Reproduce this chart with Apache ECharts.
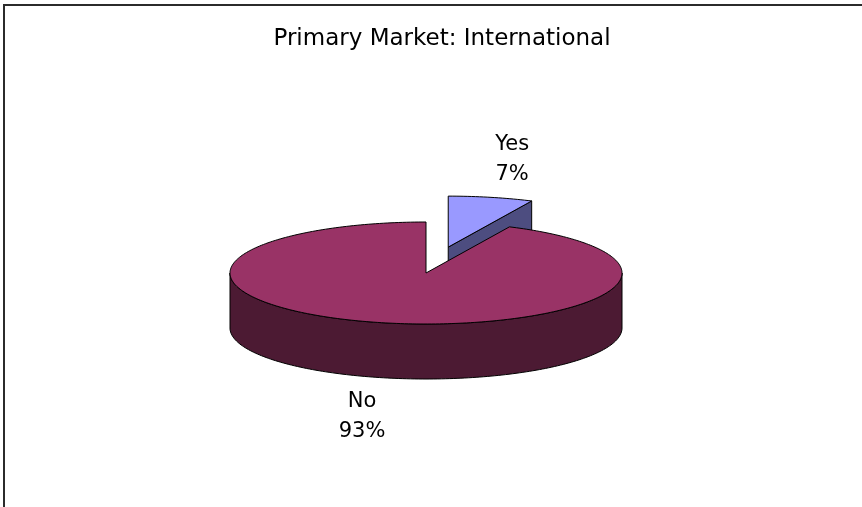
<!DOCTYPE html>
<html>
<head>
<meta charset="utf-8">
<script src="https://cdn.jsdelivr.net/npm/echarts@6/dist/echarts.min.js"></script>
<style>
  html, body { margin: 0; padding: 0; background: #fff; }
  #main { width: 862px; height: 507px; }
</style>
</head>
<body>
<div id="main"></div>
<script>
// data
var categories = ['Yes', 'No'];
var values = [7, 93];
var topColors = ['#9999FF', '#993366'];
var sideColors = ['#4D4D80', '#4C1A33'];
var explode = [0.52, 0];

// 3d pie geometry (pixels)
var CX = 426, CY = 273, RX = 196, RY = 51, DEPTH = 55;
var FONT = 'DejaVu Sans';

var myChart = echarts.init(document.getElementById('main'));

function total() {
    var s = 0;
    for (var i = 0; i < values.length; i++) s += values[i];
    return s;
}

function arc(ox, oy, a0, a1, dy) {
    var pts = [];
    var n = Math.max(2, Math.ceil((a1 - a0) / 0.02));
    for (var k = 0; k <= n; k++) {
        var t = a0 + (a1 - a0) * k / n;
        pts.push([ox + RX * Math.sin(t), oy - RY * Math.cos(t) + dy]);
    }
    return pts;
}

function renderSlice(params, api) {
    var i = params.dataIndex;
    var sum = total();
    var before = 0;
    for (var j = 0; j < i; j++) before += values[j];
    var a0 = before / sum * Math.PI * 2;
    var a1 = (before + api.value(0)) / sum * Math.PI * 2;
    var mid = (a0 + a1) / 2;
    var ox = CX + explode[i] * RX * Math.sin(mid);
    var oy = CY - explode[i] * RY * Math.cos(mid);
    var line = { stroke: '#000', lineWidth: 1 };
    var children = [];

    // curved outer wall, only the front half shows
    var w0 = Math.max(a0, Math.PI / 2), w1 = Math.min(a1, Math.PI * 1.5);
    if (w1 > w0) {
        var wall = arc(ox, oy, w0, w1, 0).concat(arc(ox, oy, w0, w1, DEPTH).reverse());
        children.push({ type: 'polygon', shape: { points: wall },
            style: Object.assign({ fill: sideColors[i] }, line) });
    }
    // cut faces
    [[a1, 1], [a0, -1]].forEach(function (f) {
        if (Math.sin(f[0]) * f[1] > 0.001) {
            var ex = ox + RX * Math.sin(f[0]), ey = oy - RY * Math.cos(f[0]);
            children.push({ type: 'polygon',
                shape: { points: [[ox, oy], [ex, ey], [ex, ey + DEPTH], [ox, oy + DEPTH]] },
                style: Object.assign({ fill: sideColors[i] }, line) });
        }
    });
    // top face
    var top = [[ox, oy]].concat(arc(ox, oy, a0, a1, 0));
    children.push({ type: 'polygon', shape: { points: top },
        style: Object.assign({ fill: topColors[i] }, line) });

    // label outside the slice
    var up = Math.cos(mid) > 0;
    var lx = ox + RX * Math.sin(mid) + Math.sin(mid) * 97;
    var ly = up ? oy - RY * Math.cos(mid) - 8 : oy - RY * Math.cos(mid) + DEPTH + 9;
    var pct = Math.round(api.value(0) / sum * 100) + '%';
    children.push({ type: 'text', x: lx, y: ly,
        style: { text: categories[i] + '\n' + pct, fill: '#000', font: '21px ' + FONT,
            lineHeight: 30, align: 'center', verticalAlign: up ? 'bottom' : 'top' } });

    return { type: 'group', children: children };
}

var option = {
    animation: false,
    backgroundColor: '#fff',
    title: {
        text: 'Primary Market: International',
        left: 437,
        top: 23,
        textAlign: 'center',
        textStyle: { fontFamily: FONT, fontSize: 23, fontWeight: 'normal', color: '#000' }
    },
    graphic: [{
        type: 'rect',
        shape: { x: 4, y: 5, width: 900, height: 600 },
        style: { fill: 'none', stroke: '#2b2b2b', lineWidth: 2 },
        z: 0
    }],
    series: [{
        type: 'custom',
        coordinateSystem: 'none',
        renderItem: renderSlice,
        data: values
    }]
};

myChart.setOption(option);
</script>
</body>
</html>
